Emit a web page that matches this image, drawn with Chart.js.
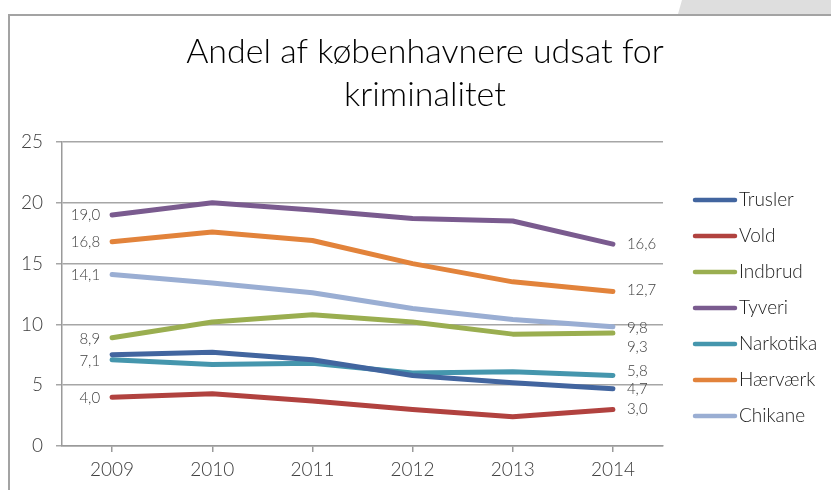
<!DOCTYPE html>
<html>
<head>
<meta charset="utf-8">
<script src="https://cdn.jsdelivr.net/npm/chart.js@4/dist/chart.umd.min.js"></script>
<style>
  body { margin: 0; background: #fff; }
  #wrap { width: 831px; height: 490px; }
</style>
</head>
<body>
<div id="wrap"><canvas id="crimeChart" width="831" height="490"></canvas></div>
<script>
const years = ['2009', '2010', '2011', '2012', '2013', '2014'];
const seriesNames = ['Trusler', 'Vold', 'Indbrud', 'Tyveri', 'Narkotika', 'Hærværk', 'Chikane'];
const trusler = [7.5, 7.7, 7.1, 5.8, 5.2, 4.7];
const vold = [4.0, 4.3, 3.7, 3.0, 2.4, 3.0];
const indbrud = [8.9, 10.2, 10.8, 10.2, 9.2, 9.3];
const tyveri = [19.0, 20.0, 19.4, 18.7, 18.5, 16.6];
const narkotika = [7.1, 6.7, 6.8, 6.0, 6.1, 5.8];
const haervaerk = [16.8, 17.6, 16.9, 15.0, 13.5, 12.7];
const chikane = [14.1, 13.4, 12.6, 11.3, 10.4, 9.8];
const yTicks = [0, 5, 10, 15, 20, 25];

const colors = ['#42659f', '#b1423f', '#9aae50', '#7a5b8f', '#4596ad', '#e2833b', '#9aaed3'];
const allValues = [trusler, vold, indbrud, tyveri, narkotika, haervaerk, chikane];

const FONT = 'Lato, "Open Sans", sans-serif';

// label tweaks: [show left, left dy, right dy]
const labelTweaks = [
  [false, 0, 0],
  [true, 1, 0],
  [true, 1, 14],
  [true, 0, 0],
  [true, 1, -4],
  [true, 0, -1],
  [true, 1, 1]
];

const fmt = v => v.toFixed(1).replace('.', ',');

const framePlugin = {
  id: 'frame',
  beforeDraw(chart) {
    const ctx = chart.ctx;
    ctx.save();
    ctx.fillStyle = '#dedede';
    ctx.beginPath();
    ctx.moveTo(682, 0); ctx.lineTo(831, 0); ctx.lineTo(831, 14); ctx.lineTo(678, 14);
    ctx.closePath();
    ctx.fill();
    ctx.strokeStyle = '#a3a3a3';
    ctx.lineWidth = 2;
    ctx.beginPath();
    ctx.moveTo(9, 490); ctx.lineTo(9, 15); ctx.lineTo(831, 15);
    ctx.stroke();
    // title
    ctx.fillStyle = '#000';
    ctx.font = '300 34px ' + FONT;
    ctx.textAlign = 'center';
    ctx.textBaseline = 'middle';
    ctx.fillText('Andel af københavnere udsat for', 425, 52);
    ctx.fillText('kriminalitet', 425, 95);
    ctx.restore();
  }
};

const labelPlugin = {
  id: 'endLabels',
  afterDatasetsDraw(chart) {
    const ctx = chart.ctx;
    ctx.save();
    ctx.font = '300 15px ' + FONT;
    ctx.fillStyle = '#404040';
    ctx.textBaseline = 'middle';
    chart.data.datasets.forEach((ds, i) => {
      const pts = chart.getDatasetMeta(i).data;
      const first = pts[0], last = pts[pts.length - 1];
      const t = labelTweaks[i];
      if (t[0]) {
        ctx.textAlign = 'right';
        ctx.fillText(fmt(ds.data[0]), first.x - 12, first.y + t[1]);
      }
      ctx.textAlign = 'left';
      ctx.fillText(fmt(ds.data[ds.data.length - 1]), last.x + 14, last.y + t[2]);
    });
    // legend
    ctx.font = '300 19px ' + FONT;
    ctx.fillStyle = '#1a1a1a';
    ctx.lineCap = 'round';
    chart.data.datasets.forEach((ds, i) => {
      const y = 200 + i * 36;
      ctx.strokeStyle = ds.borderColor;
      ctx.lineWidth = 4.5;
      ctx.beginPath();
      ctx.moveTo(695, y); ctx.lineTo(735, y);
      ctx.stroke();
      ctx.fillText(ds.label, 739, y);
    });
    ctx.restore();
  }
};

new Chart(document.getElementById('crimeChart'), {
  type: 'line',
  data: {
    labels: years,
    datasets: seriesNames.map((name, i) => ({
      label: name,
      data: allValues[i],
      borderColor: colors[i],
      backgroundColor: colors[i],
      borderWidth: 5,
      borderCapStyle: 'round',
      borderJoinStyle: 'round',
      pointRadius: 0,
      tension: 0
    }))
  },
  options: {
    responsive: false,
    animation: false,
    layout: { padding: { left: 0, right: 168, top: 142, bottom: 0 } },
    plugins: {
      legend: { display: false },
      title: { display: false },
      tooltip: { enabled: false }
    },
    scales: {
      x: {
        offset: true,
        afterFit: scale => { scale.height = 44; },
        grid: { drawOnChartArea: false, drawTicks: true, tickLength: 6, color: '#9a9a9a', lineWidth: 1.5 },
        border: { display: true, color: '#9a9a9a', width: 1.5 },
        ticks: { color: '#404040', font: { family: FONT, size: 19, weight: '300' }, padding: 6 }
      },
      y: {
        min: 0,
        max: 25,
        afterFit: scale => { scale.width = 62; },
        afterBuildTicks: scale => { scale.ticks = yTicks.map(v => ({ value: v })); },
        grid: { color: '#a6a6a6', lineWidth: 1.5, tickLength: 6 },
        border: { display: true, color: '#9a9a9a', width: 1.5 },
        ticks: { color: '#404040', font: { family: FONT, size: 19, weight: '300' }, padding: 13 }
      }
    }
  },
  plugins: [framePlugin, labelPlugin]
});
</script>
</body>
</html>
